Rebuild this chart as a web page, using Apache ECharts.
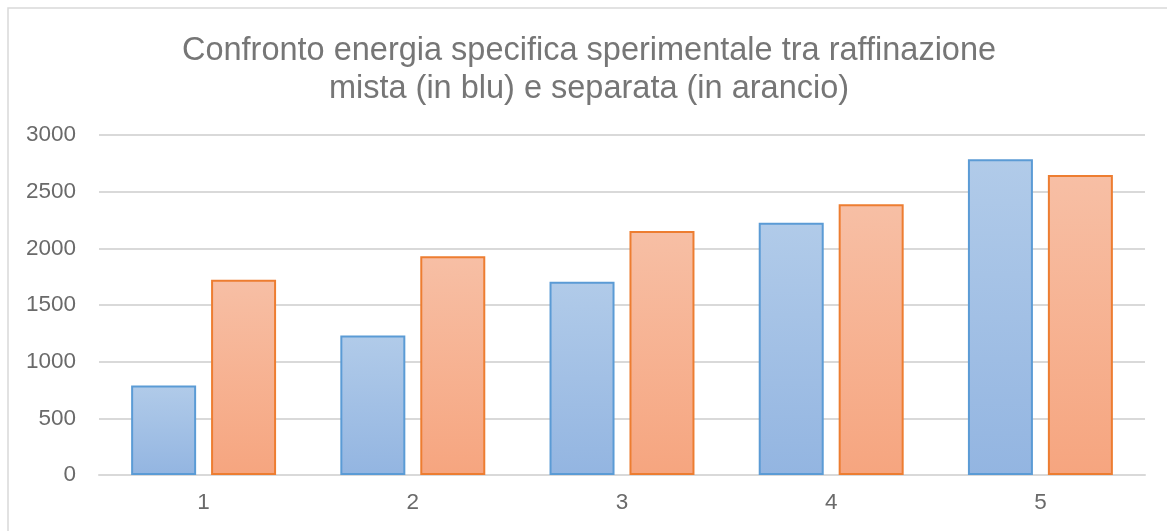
<!DOCTYPE html>
<html>
<head>
<meta charset="utf-8">
<script src="https://cdn.jsdelivr.net/npm/echarts@6/dist/echarts.min.js"></script>
<style>
html,body{margin:0;padding:0;background:#fff;}
#chart{width:1167px;height:531px;}
</style>
</head>
<body>
<div id="chart"></div>
<script>
const categories = ['1', '2', '3', '4', '5'];
const mista = [790, 1230, 1706, 2225, 2785];
const separata = [1722, 1930, 2153, 2390, 2648];
const yTicks = [0, 500, 1000, 1500, 2000, 2500, 3000];
const titleText = 'Confronto energia specifica sperimentale tra raffinazione\nmista (in blu) e separata (in arancio)';

const chart = echarts.init(document.getElementById('chart'), null, {renderer: 'canvas'});
const font = '"Liberation Sans", Arial, sans-serif';
chart.setOption({
  animation: false,
  backgroundColor: '#ffffff',
  graphic: [{
    type: 'rect',
    shape: {x: 8, y: 8, width: 1170, height: 540},
    style: {fill: 'none', stroke: '#d9d9d9', lineWidth: 1.5},
    silent: true
  }],
  title: {
    text: titleText,
    left: 584,
    textAlign: 'center',
    top: 27,
    textStyle: {fontFamily: font, fontSize: 32.5, fontWeight: 'normal', color: '#767676', lineHeight: 38}
  },
  grid: {left: 99, right: 22, top: 135, bottom: 56, containLabel: false},
  xAxis: {
    type: 'category',
    data: categories,
    axisLine: {lineStyle: {color: '#d9d9d9', width: 2}},
    axisTick: {show: false},
    axisLabel: {fontFamily: font, fontSize: 22.5, color: '#6a6a6a', margin: 16}
  },
  yAxis: {
    type: 'value',
    min: yTicks[0],
    max: yTicks[yTicks.length - 1],
    interval: 500,
    axisLine: {show: false},
    axisTick: {show: false},
    splitLine: {lineStyle: {color: '#d9d9d9', width: 2}},
    axisLabel: {fontFamily: font, fontSize: 22.5, color: '#6a6a6a', margin: 23, formatter: function (v) { return String(v); }}
  },
  series: [{
    type: 'bar',
    name: 'mista',
    data: mista,
    barWidth: 65,
    barGap: '23%',
    itemStyle: {
      color: new echarts.graphic.LinearGradient(0, 0, 0, 1, [
        {offset: 0, color: '#b1cbe9'},
        {offset: 1, color: '#93b5e1'}
      ]),
      borderColor: '#5b9bd5',
      borderWidth: 2
    }
  }, {
    type: 'bar',
    name: 'separata',
    data: separata,
    barWidth: 65,
    barGap: '23%',
    itemStyle: {
      color: new echarts.graphic.LinearGradient(0, 0, 0, 1, [
        {offset: 0, color: '#f7bfa5'},
        {offset: 1, color: '#f6a57f'}
      ]),
      borderColor: '#ed7d31',
      borderWidth: 2
    }
  }]
});
</script>
</body>
</html>
